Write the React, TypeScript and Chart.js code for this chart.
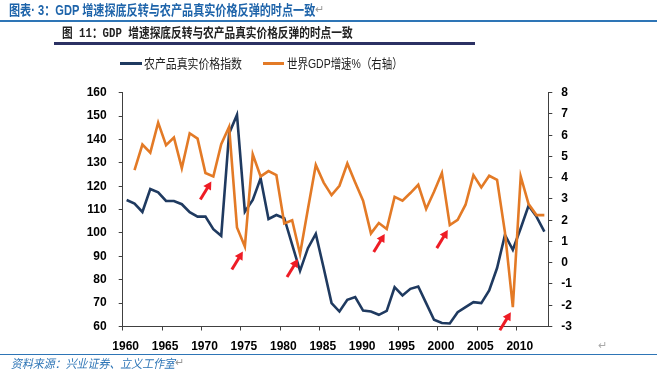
import React, { useEffect, useLayoutEffect, useRef } from "react";
import { Chart, registerables } from "chart.js";

Chart.register(...registerables);

// ---------- data ----------
const years: number[] = [
  1960, 1961, 1962, 1963, 1964, 1965, 1966, 1967, 1968, 1969,
  1970, 1971, 1972, 1973, 1974, 1975, 1976, 1977, 1978, 1979,
  1980, 1981, 1982, 1983, 1984, 1985, 1986, 1987, 1988, 1989,
  1990, 1991, 1992, 1993, 1994, 1995, 1996, 1997, 1998, 1999,
  2000, 2001, 2002, 2003, 2004, 2005, 2006, 2007, 2008, 2009,
  2010, 2011, 2012, 2013,
];

// 农产品真实价格指数 (left axis)
const agriPrice: number[] = [
  114.1, 112.6, 109.0, 118.8, 117.4, 113.7, 113.7, 112.3, 108.9, 107.0,
  107.0, 101.6, 98.8, 142.6, 150.5, 109.1, 114.1, 123.4, 106.0, 107.7,
  106.3, 95.0, 83.8, 93.5, 99.6, 85.0, 70.0, 66.4, 71.4, 72.6,
  66.8, 66.4, 65.0, 66.7, 76.8, 73.3, 76.1, 77.1, 70.0, 62.9,
  61.5, 61.3, 66.1, 68.3, 70.4, 70.0, 75.4, 85.0, 99.2, 92.8,
  102.0, 111.7, 107.0, 100.6,
];

// 世界GDP增速% (right axis)
const worldGdp: (number | null)[] = [
  null, 4.36, 5.56, 5.18, 6.59, 5.53, 5.89, 4.45, 6.09, 5.84,
  4.22, 4.06, 5.58, 6.39, 1.66, 0.76, 5.1, 4.06, 4.31, 4.12,
  1.85, 2.0, 0.41, 2.53, 4.6, 3.77, 3.18, 3.62, 4.67, 3.77,
  2.92, 1.38, 1.87, 1.59, 3.1, 2.92, 3.28, 3.67, 2.53, 3.34,
  4.22, 1.77, 2.02, 2.73, 4.12, 3.54, 4.09, 3.9, 1.43, -2.09,
  4.06, 2.76, 2.24, 2.24,
];

// years whose GDP trough is marked with a red arrow
const arrowYears: number[] = [1971, 1975, 1982, 1993, 2001, 2009];

const seriesNames = ["农产品真实价格指数", "世界GDP增速%（右轴）"];
const title1 = "图表· 3：GDP 增速探底反转与农产品真实价格反弹的时点一致";
const title2 = "图 11：GDP 增速探底反转与农产品真实价格反弹的时点一致";
const sourceText = "资料来源：兴业证券、立义工作室";

const NAVY = "#1F3A60";
const ORANGE = "#E37A26";
const RED = "#EE1C25";
const AXIS = "#404040";

// ---------- helpers ----------
function FitText(props: {
  text: string;
  width: number;
  left: number;
  cy: number;
  style: React.CSSProperties;
}) {
  const ref = useRef<HTMLSpanElement>(null);
  useLayoutEffect(() => {
    const el = ref.current;
    if (!el) return;
    el.style.transform = "none";
    const w = el.offsetWidth;
    const h = el.offsetHeight;
    el.style.top = props.cy - h / 2 + "px";
    el.style.transform = `scaleX(${props.width / w})`;
  }, [props.text, props.width, props.cy]);
  return (
    <span
      ref={ref}
      style={{
        position: "absolute",
        left: props.left,
        top: props.cy - 8,
        whiteSpace: "nowrap",
        display: "inline-block",
        transformOrigin: "left center",
        lineHeight: 1.2,
        ...props.style,
      }}
    >
      {props.text}
    </span>
  );
}

const cjk = '"Liberation Sans", "Noto Sans CJK SC", sans-serif';

export default function App() {
  const canvasRef = useRef<HTMLCanvasElement>(null);

  useEffect(() => {
    const canvas = canvasRef.current;
    if (!canvas) return;

    const blueData = years.map((y, i) => ({ x: y + 0.5, y: agriPrice[i] }));
    const orangeData = years
      .map((y, i) => ({ x: y + 0.5, y: worldGdp[i] }))
      .filter((p) => p.y !== null) as { x: number; y: number }[];

    const arrowPlugin = {
      id: "troughArrows",
      afterDraw(chart: any) {
        const ctx = chart.ctx as CanvasRenderingContext2D;
        const xs = chart.scales.x;
        const ys = chart.scales.y1;
        ctx.save();
        ctx.strokeStyle = RED;
        ctx.fillStyle = RED;
        ctx.lineWidth = 3;
        ctx.lineCap = "butt";
        arrowYears.forEach((yr) => {
          const idx = years.indexOf(yr);
          const v = worldGdp[idx];
          if (v === null || idx < 0) return;
          const px = xs.getPixelForValue(yr + 0.5);
          const py = ys.getPixelForValue(v);
          const tipX = px - 2;
          const tipY = py + 5;
          const tailX = px - 13;
          const tailY = py + 23;
          const dx = tipX - tailX;
          const dy = tipY - tailY;
          const len = Math.hypot(dx, dy);
          const ux = dx / len;
          const uy = dy / len;
          const headLen = 8;
          const headHalf = 4.5;
          const bx = tipX - ux * headLen;
          const by = tipY - uy * headLen;
          ctx.beginPath();
          ctx.moveTo(tailX, tailY);
          ctx.lineTo(bx + ux * 1, by + uy * 1);
          ctx.stroke();
          ctx.beginPath();
          ctx.moveTo(tipX, tipY);
          ctx.lineTo(bx - uy * headHalf, by + ux * headHalf);
          ctx.lineTo(bx + uy * headHalf, by - ux * headHalf);
          ctx.closePath();
          ctx.fill();
        });
        ctx.restore();
      },
    };

    const tickFont = {
      family: '"Liberation Sans", Arial, sans-serif',
      size: 12,
      weight: "bold" as const,
    };

    const chart = new Chart(canvas, {
      type: "line",
      data: {
        datasets: [
          {
            label: seriesNames[1],
            data: orangeData,
            yAxisID: "y1",
            borderColor: ORANGE,
            backgroundColor: ORANGE,
            borderWidth: 2.6,
            pointRadius: 0,
            tension: 0,
            order: 0,
          },
          {
            label: seriesNames[0],
            data: blueData,
            yAxisID: "y",
            borderColor: NAVY,
            backgroundColor: NAVY,
            borderWidth: 2.6,
            pointRadius: 0,
            tension: 0,
            order: 1,
          },
        ],
      },
      options: {
        animation: false,
        responsive: false,
        devicePixelRatio: 1,
        layout: { padding: { top: 92.7, left: 0, right: 0, bottom: 0 } },
        plugins: {
          legend: { display: false },
          tooltip: { enabled: false },
        },
        scales: {
          x: {
            type: "linear",
            position: "bottom",
            min: 1960,
            max: 2014,
            afterFit: (s: any) => {
              s.height = 45.5;
            },
            grid: {
              drawOnChartArea: false,
              drawTicks: true,
              tickLength: 4,
              color: AXIS,
            },
            border: { display: true, color: AXIS, width: 1 },
            ticks: {
              stepSize: 5,
              includeBounds: false,
              autoSkip: false,
              maxRotation: 0,
              padding: 9,
              labelOffset: 3,
              color: "#000",
              font: tickFont,
              callback: (v: any) => String(v),
            },
          },
          y: {
            type: "linear",
            position: "left",
            min: 60,
            max: 160,
            afterFit: (s: any) => {
              s.width = 122.7;
            },
            grid: {
              drawOnChartArea: false,
              drawTicks: true,
              tickLength: 4,
              color: AXIS,
            },
            border: { display: true, color: AXIS, width: 1 },
            ticks: {
              stepSize: 10,
              padding: 12,
              color: "#000",
              font: tickFont,
            },
          },
          y1: {
            type: "linear",
            position: "right",
            min: -3,
            max: 8,
            afterFit: (s: any) => {
              s.width = 108.7;
            },
            grid: {
              drawOnChartArea: false,
              drawTicks: true,
              tickLength: 4,
              color: AXIS,
            },
            border: { display: true, color: AXIS, width: 1 },
            ticks: {
              stepSize: 1,
              padding: 9,
              color: "#000",
              font: tickFont,
            },
          },
        },
      },
      plugins: [arrowPlugin],
    });

    return () => chart.destroy();
  }, []);

  return (
    <div
      style={{
        position: "fixed",
        left: 0,
        top: 0,
        width: 657,
        height: 372,
        background: "#fff",
        overflow: "hidden",
      }}
    >
      <canvas
        ref={canvasRef}
        width={657}
        height={372}
        style={{ position: "absolute", left: 0, top: 0, width: 657, height: 372 }}
      />

      {/* report heading */}
      <FitText
        text={title1}
        left={9}
        cy={10.5}
        width={306}
        style={{ fontFamily: cjk, fontSize: 14, fontWeight: 700, color: "#1E64AA" }}
      />
      <span style={{ position: "absolute", left: 315, top: 3, fontSize: 11, color: "#999", fontFamily: cjk }}>↵</span>
      <div style={{ position: "absolute", left: 0, top: 20, width: 657, height: 1.5, background: "#2E75B6" }} />

      {/* figure heading */}
      <FitText
        text={title2}
        left={62}
        cy={33.5}
        width={291}
        style={{
          fontFamily: '"Liberation Mono", "Noto Sans CJK SC", monospace',
          fontSize: 13,
          fontWeight: 700,
          color: "#222",
        }}
      />
      <div style={{ position: "absolute", left: 54, top: 41.5, width: 421, height: 3, background: "#2B3163" }} />

      {/* legend */}
      <div style={{ position: "absolute", left: 120, top: 62, width: 22, height: 2.5, background: NAVY }} />
      <FitText
        text={seriesNames[0]}
        left={144}
        cy={63.5}
        width={98}
        style={{ fontFamily: cjk, fontSize: 13, color: "#222" }}
      />
      <div style={{ position: "absolute", left: 263, top: 62, width: 21, height: 2.5, background: ORANGE }} />
      <FitText
        text={seriesNames[1]}
        left={287}
        cy={63.5}
        width={116}
        style={{ fontFamily: cjk, fontSize: 13, color: "#222" }}
      />

      {/* paragraph mark */}
      <span style={{ position: "absolute", left: 598, top: 339, fontSize: 11, color: "#aaa", fontFamily: cjk }}>↵</span>

      {/* footer */}
      <div style={{ position: "absolute", left: 0, top: 353.5, width: 657, height: 1.5, background: "#2E75B6" }} />
      <FitText
        text={sourceText}
        left={11}
        cy={363.5}
        width={164}
        style={{ fontFamily: cjk, fontSize: 12, fontStyle: "italic", color: "#2E75B6" }}
      />
      <span style={{ position: "absolute", left: 175, top: 356, fontSize: 11, color: "#999", fontFamily: cjk }}>↵</span>
    </div>
  );
}
